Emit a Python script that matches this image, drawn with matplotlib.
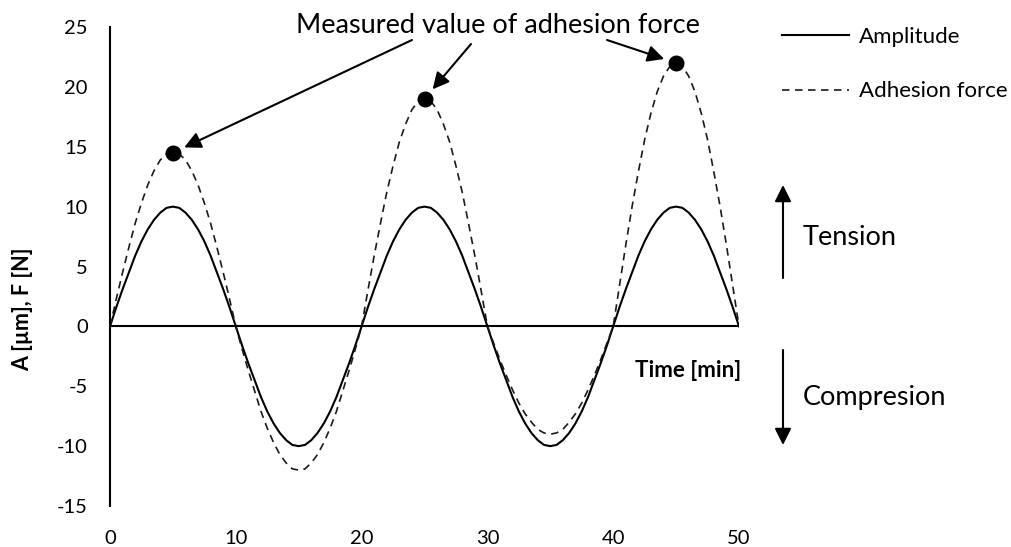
import numpy as np
import matplotlib
matplotlib.use('Agg')
import matplotlib.pyplot as plt

plt.rcParams['font.family'] = ['Lato', 'DejaVu Sans']
plt.rcParams['axes.unicode_minus'] = False

# Time axis [min], one reading every half minute
time = np.arange(0, 50.5, 0.5)

amplitude = [0, 1.6, 3.1, 4.5, 5.9, 7.1, 8.1, 8.9, 9.5, 9.9, 10,
             9.9, 9.5, 8.9, 8.1, 7.1, 5.9, 4.5, 3.1, 1.6, 0,
             -1.6, -3.1, -4.5, -5.9, -7.1, -8.1, -8.9, -9.5, -9.9, -10,
             -9.9, -9.5, -8.9, -8.1, -7.1, -5.9, -4.5, -3.1, -1.6, 0,
             1.6, 3.1, 4.5, 5.9, 7.1, 8.1, 8.9, 9.5, 9.9, 10,
             9.9, 9.5, 8.9, 8.1, 7.1, 5.9, 4.5, 3.1, 1.6, 0,
             -1.6, -3.1, -4.5, -5.9, -7.1, -8.1, -8.9, -9.5, -9.9, -10,
             -9.9, -9.5, -8.9, -8.1, -7.1, -5.9, -4.5, -3.1, -1.6, 0,
             1.6, 3.1, 4.5, 5.9, 7.1, 8.1, 8.9, 9.5, 9.9, 10,
             9.9, 9.5, 8.9, 8.1, 7.1, 5.9, 4.5, 3.1, 1.6, 0]

adhesion = [0, 2.3, 4.5, 6.6, 8.6, 10.3, 11.8, 13.0, 13.9, 14.4, 14.6,
            14.4, 13.9, 13.0, 11.8, 10.3, 8.6, 6.6, 4.5, 2.3, 0,
            -1.9, -3.7, -5.4, -7.1, -8.5, -9.7, -10.7, -11.4, -11.9, -12,
            -11.9, -11.4, -10.7, -9.7, -8.5, -7.1, -5.4, -3.7, -1.9, 0,
            3.0, 5.9, 8.6, 11.2, 13.4, 15.4, 16.9, 18.1, 18.8, 19,
            18.8, 18.1, 16.9, 15.4, 13.4, 11.2, 8.6, 5.9, 3.0, 0,
            -1.4, -2.8, -4.1, -5.3, -6.4, -7.3, -8.0, -8.6, -8.9, -9,
            -8.9, -8.6, -8.0, -7.3, -6.4, -5.3, -4.1, -2.8, -1.4, 0,
            3.4, 6.8, 10.0, 12.9, 15.6, 17.8, 19.6, 20.9, 21.7, 22,
            21.7, 20.9, 19.6, 17.8, 15.6, 12.9, 10.0, 6.8, 3.4, 0]

# measured adhesion force peaks
peak_t = [5, 25, 45]
peak_f = [14.5, 19, 22]

W, H = 1011, 547


def px(x, y):
    # pixel position (from top-left) -> figure fraction
    return (x / W, 1 - y / H)


fig = plt.figure(figsize=(W / 100, H / 100), dpi=100)
ax = fig.add_axes([110 / W, 41 / H, 629 / W, 479 / H])

ax.plot(time, amplitude, color='black', lw=1.5, label='Amplitude')
ax.plot(time, adhesion, color='#1a1a1a', lw=1.2, dashes=(4.5, 3.3),
        label='Adhesion force')
ax.plot(peak_t, peak_f, 'o', color='black', ms=10.5, zorder=5)
ax.axhline(0, color='black', lw=1.5)

ax.set_xlim(0, 50)
ax.set_ylim(-15, 25)
ax.set_xticks(np.arange(0, 51, 10))
ax.set_yticks(np.arange(-15, 26, 5))
ax.tick_params(length=0, labelsize=14.5)
ax.tick_params(axis='x', pad=17)
ax.tick_params(axis='y', pad=16)
for s in ['top', 'right', 'bottom']:
    ax.spines[s].set_visible(False)
ax.spines['left'].set_linewidth(1.5)

fig.text(*px(23, 309), 'A [µm], F [N]', rotation=90, ha='center',
         va='center', fontsize=15.5, fontweight='bold')
fig.text(*px(688, 377), 'Time [min]', ha='center', va='baseline',
         fontsize=16, fontweight='bold')

ax.legend(loc='upper left', bbox_to_anchor=px(782, 27),
          bbox_transform=fig.transFigure, frameon=False, fontsize=16,
          handlelength=3.0, handletextpad=0.45, labelspacing=1.55,
          borderpad=0, borderaxespad=0)

# annotation pointing at measured values
fig.text(*px(498, 33), 'Measured value of adhesion force', ha='center',
         va='baseline', fontsize=19.5)
tails = [(412, 40), (471, 44), (607, 40)]
for (tx, ty), t, f in zip(tails, peak_t, peak_f):
    ax.annotate('', xy=(t, f), xycoords='data',
                xytext=px(tx, ty), textcoords='figure fraction',
                arrowprops=dict(arrowstyle='-|>', color='black', lw=1.5,
                                mutation_scale=25, shrinkA=0, shrinkB=9))

# tension / compression arrows
ax.annotate('', xy=px(783, 185), xycoords='figure fraction',
            xytext=px(783, 278), textcoords='figure fraction',
            arrowprops=dict(arrowstyle='-|>', color='black', lw=1.5,
                            mutation_scale=25, shrinkA=0, shrinkB=0))
ax.annotate('', xy=px(783, 445), xycoords='figure fraction',
            xytext=px(783, 350), textcoords='figure fraction',
            arrowprops=dict(arrowstyle='-|>', color='black', lw=1.5,
                            mutation_scale=25, shrinkA=0, shrinkB=0))
fig.text(*px(803, 245), 'Tension', ha='left', va='baseline', fontsize=19.5)
fig.text(*px(803, 405), 'Compresion', ha='left', va='baseline', fontsize=19.5)

fig.savefig('out.png', dpi=100)
